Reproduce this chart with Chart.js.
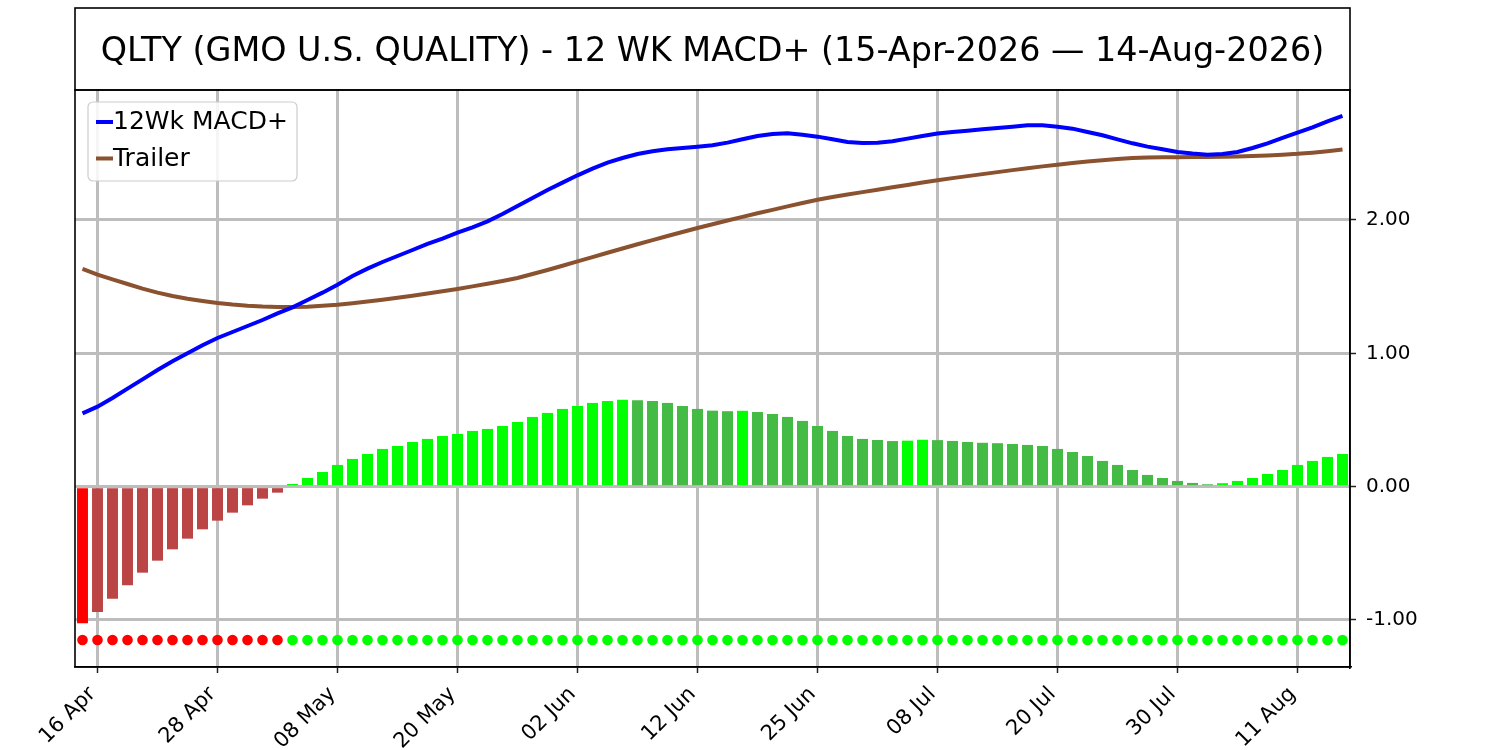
<!DOCTYPE html>
<html>
<head>
<meta charset="utf-8">
<script src="https://cdn.jsdelivr.net/npm/chart.js@4"></script>
<style>
  html, body { margin: 0; padding: 0; background: #fff; }
  canvas { display: block; }
</style>
</head>
<body>
<canvas id="macdChart" width="1500" height="750"></canvas>
<script>
// trading days, 15-Apr-2026 .. 14-Aug-2026
let days = [
	'15 Apr', '16 Apr', '17 Apr', '20 Apr', '21 Apr', '22 Apr', '23 Apr', '24 Apr', '27 Apr', '28 Apr',
	'29 Apr', '30 Apr', '01 May', '04 May', '05 May', '06 May', '07 May', '08 May', '11 May', '12 May',
	'13 May', '14 May', '15 May', '18 May', '19 May', '20 May', '21 May', '22 May', '26 May', '27 May',
	'28 May', '29 May', '01 Jun', '02 Jun', '03 Jun', '04 Jun', '05 Jun', '08 Jun', '09 Jun', '10 Jun',
	'11 Jun', '12 Jun', '15 Jun', '16 Jun', '17 Jun', '18 Jun', '22 Jun', '23 Jun', '24 Jun', '25 Jun',
	'26 Jun', '29 Jun', '30 Jun', '01 Jul', '02 Jul', '06 Jul', '07 Jul', '08 Jul', '09 Jul', '10 Jul',
	'13 Jul', '14 Jul', '15 Jul', '16 Jul', '17 Jul', '20 Jul', '21 Jul', '22 Jul', '23 Jul', '24 Jul',
	'27 Jul', '28 Jul', '29 Jul', '30 Jul', '31 Jul', '03 Aug', '04 Aug', '05 Aug', '06 Aug', '07 Aug',
	'10 Aug', '11 Aug', '12 Aug', '13 Aug', '14 Aug',
]

let macd = [
	0.55, 0.6, 0.665, 0.735, 0.805, 0.875, 0.94, 1.0, 1.06, 1.115,
	1.16, 1.205, 1.25, 1.3, 1.345, 1.4, 1.455, 1.515, 1.58, 1.635,
	1.685, 1.73, 1.775, 1.82, 1.86, 1.905, 1.945, 1.99, 2.045, 2.105,
	2.165, 2.225, 2.28, 2.335, 2.385, 2.43, 2.465, 2.495, 2.515, 2.53,
	2.54, 2.55, 2.56, 2.58, 2.605, 2.63, 2.645, 2.65, 2.64, 2.625,
	2.605, 2.585, 2.578, 2.58, 2.59, 2.61, 2.63, 2.648, 2.66, 2.67,
	2.68, 2.69, 2.7, 2.71, 2.71, 2.7, 2.685, 2.66, 2.635, 2.605,
	2.575, 2.55, 2.53, 2.51, 2.498, 2.49, 2.495, 2.51, 2.54, 2.575,
	2.615, 2.655, 2.695, 2.74, 2.78,
]

let trailer = [
	1.633, 1.59, 1.555, 1.52, 1.485, 1.455, 1.43, 1.41, 1.393, 1.378,
	1.366, 1.357, 1.351, 1.348, 1.347, 1.35, 1.356, 1.364, 1.375, 1.388,
	1.402, 1.417, 1.432, 1.448, 1.465, 1.483, 1.502, 1.522, 1.543, 1.565,
	1.595, 1.625, 1.657, 1.69, 1.722, 1.754, 1.786, 1.818, 1.849, 1.88,
	1.91, 1.94, 1.968, 1.996, 2.023, 2.05, 2.076, 2.102, 2.127, 2.152,
	2.172, 2.191, 2.209, 2.227, 2.245, 2.263, 2.281, 2.298, 2.314, 2.329,
	2.344, 2.359, 2.374, 2.388, 2.402, 2.415, 2.427, 2.438, 2.448, 2.457,
	2.464, 2.468, 2.47, 2.471, 2.472, 2.473, 2.474, 2.476, 2.479, 2.484,
	2.49, 2.496, 2.505, 2.516, 2.528,
]

// histogram (MACD - trailer)
let hist = [
	-1.025, -0.94, -0.84, -0.74, -0.645, -0.555, -0.47, -0.39, -0.32, -0.255,
	-0.195, -0.14, -0.09, -0.045, 0.02, 0.065, 0.11, 0.163, 0.208, 0.245,
	0.283, 0.305, 0.335, 0.358, 0.38, 0.395, 0.418, 0.433, 0.455, 0.485,
	0.523, 0.553, 0.583, 0.605, 0.628, 0.643, 0.652, 0.648, 0.643, 0.628,
	0.605, 0.583, 0.57, 0.566, 0.569, 0.56, 0.545, 0.523, 0.493, 0.455,
	0.418, 0.38, 0.358, 0.35, 0.342, 0.345, 0.352, 0.349, 0.343, 0.335,
	0.329, 0.326, 0.32, 0.313, 0.305, 0.283, 0.26, 0.23, 0.193, 0.163,
	0.125, 0.088, 0.065, 0.043, 0.028, 0.018, 0.026, 0.043, 0.065, 0.095,
	0.125, 0.163, 0.193, 0.223, 0.245,
]

let yTicks = [-1, 0, 1, 2]
let signalLevel = -1.15

const TICK_EVERY = 8
const TICK_START = 1
const GRID = '#bdbdbd'

function barColor(v, i) {
	let prev = i > 0 ? hist[i - 1] : null
	if (v >= 0) return prev === null || v > prev ? '#00ff00' : '#44bb44'
	return prev === null || v < prev ? '#ff0000' : '#bb4444'
}

let isTick = (i) => i % TICK_EVERY === TICK_START

let framePlugin = {
	id: 'frame',
	afterDraw(chart) {
		let { ctx, chartArea: a } = chart
		ctx.save()
		ctx.strokeStyle = '#000'
		ctx.lineWidth = 1.6
		ctx.strokeRect(a.left, a.top, a.right - a.left, a.bottom - a.top)
		ctx.strokeRect(a.left, 8, a.right - a.left, a.top - 8)

		// legend, top left inside the plot
		let lx = a.left + 13
		let ly = a.top + 12
		let w = 209
		let h = 79
		let r = 5
		ctx.beginPath()
		ctx.moveTo(lx + r, ly)
		ctx.arcTo(lx + w, ly, lx + w, ly + h, r)
		ctx.arcTo(lx + w, ly + h, lx, ly + h, r)
		ctx.arcTo(lx, ly + h, lx, ly, r)
		ctx.arcTo(lx, ly, lx + w, ly, r)
		ctx.closePath()
		ctx.fillStyle = 'rgba(255,255,255,0.85)'
		ctx.fill()
		ctx.strokeStyle = '#cccccc'
		ctx.lineWidth = 1.2
		ctx.stroke()

		let items = chart.data.datasets.filter((d) => d.inLegend)
		ctx.font = '25px "DejaVu Sans"'
		ctx.textBaseline = 'middle'
		ctx.textAlign = 'left'
		items.forEach((d, k) => {
			let y = ly + 20 + k * 36.5
			ctx.beginPath()
			ctx.moveTo(lx + 8, y)
			ctx.lineTo(lx + 25, y)
			ctx.strokeStyle = d.borderColor
			ctx.lineWidth = 4
			ctx.stroke()
			ctx.fillStyle = '#000'
			ctx.fillText(d.label, lx + 25, y + 1)
		})
		ctx.restore()
	},
}

let ctx = document.getElementById('macdChart').getContext('2d')
let macdChart = new Chart(ctx, {
	type: 'bar',
	data: {
		labels: days,
		datasets: [
			{
				type: 'line',
				label: '12Wk MACD+',
				inLegend: true,
				data: macd,
				borderColor: '#0000ff',
				borderWidth: 4,
				pointRadius: 0,
				tension: 0,
				order: 1,
			},
			{
				type: 'line',
				label: 'Trailer',
				inLegend: true,
				data: trailer,
				borderColor: '#8b5230',
				borderWidth: 4,
				pointRadius: 0,
				tension: 0,
				order: 2,
			},
			{
				type: 'line',
				label: 'signal',
				data: hist.map(() => signalLevel),
				showLine: false,
				pointRadius: 5.3,
				pointBorderWidth: 0,
				pointBackgroundColor: hist.map((v) => (v < 0 ? '#ff0000' : '#00ff00')),
				order: 3,
			},
			{
				label: 'hist',
				data: hist,
				backgroundColor: hist.map(barColor),
				barPercentage: 0.73,
				categoryPercentage: 1,
				order: 4,
			},
		],
	},
	options: {
		responsive: false,
		devicePixelRatio: 1,
		animation: false,
		layout: { padding: { left: 75, top: 8, right: 0, bottom: 0 } },
		plugins: {
			legend: { display: false },
			tooltip: { enabled: false },
			title: {
				display: true,
				fullSize: false,
				text: 'QLTY (GMO U.S. QUALITY) - 12 WK MACD+ (15-Apr-2026 \u2014 14-Aug-2026)',
				color: '#000',
				font: { family: 'DejaVu Sans', size: 33.4, weight: 'normal', lineHeight: 1.2 },
				padding: { top: 24, bottom: 17.9 },
			},
		},
		scales: {
			x: {
				offset: true,
				grid: {
					offset: false,
					lineWidth: 3,
					color: (c) => (isTick(c.index) ? GRID : 'rgba(0,0,0,0)'),
					tickColor: (c) => (isTick(c.index) ? '#222' : 'rgba(0,0,0,0)'),
					tickLength: 6,
					tickWidth: 1.5,
				},
				border: { display: true, color: '#000', width: 1.6 },
				ticks: {
					autoSkip: false,
					maxRotation: 45,
					minRotation: 45,
					padding: 9,
					labelOffset: -5,
					color: '#000',
					font: { family: 'DejaVu Sans', size: 21 },
					callback: (val, i) => (isTick(i) ? days[i] : ''),
				},
				afterFit: (scale) => {
					scale.height = 83
				},
			},
			y: {
				position: 'right',
				min: -1.3525,
				max: 2.975,
				afterBuildTicks: (scale) => {
					scale.ticks = yTicks.map((v) => ({ value: v }))
				},
				grid: {
					lineWidth: 3,
					color: GRID,
					tickColor: '#222',
					tickLength: 6,
					tickWidth: 1.5,
				},
				border: { display: true, color: '#000', width: 1.6 },
				ticks: {
					padding: 10,
					color: '#000',
					font: { family: 'DejaVu Sans', size: 20 },
					callback: (v) => Number(v).toFixed(2),
				},
				afterFit: (scale) => {
					scale.width = 150
				},
			},
		},
	},
	plugins: [framePlugin],
})
</script>
</body>
</html>
